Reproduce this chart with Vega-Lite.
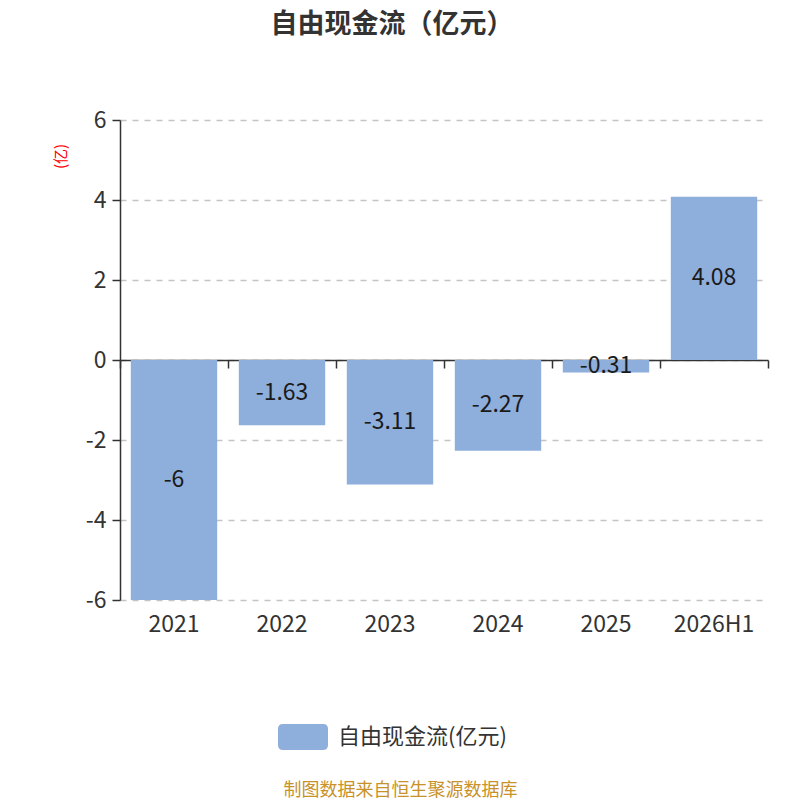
{
  "$schema": "https://vega.github.io/schema/vega-lite/v6.json",
  "width": 648,
  "height": 480,
  "autosize": {"type": "none"},
  "padding": {"left": 120, "top": 120, "right": 32, "bottom": 200},
  "background": "white",
  "config": {
    "view": {"stroke": "transparent"},
    "font": "Noto Sans CJK SC"
  },
  "title": {
    "text": "自由现金流（亿元）",
    "fontSize": 27,
    "fontWeight": "bold",
    "color": "#333333",
    "anchor": "middle",
    "frame": "group",
    "dx": -52,
    "offset": 70
  },
  "data": {
    "values": [
      {"period": "2021", "value": -6, "series": "自由现金流(亿元)"},
      {"period": "2022", "value": -1.63, "series": "自由现金流(亿元)"},
      {"period": "2023", "value": -3.11, "series": "自由现金流(亿元)"},
      {"period": "2024", "value": -2.27, "series": "自由现金流(亿元)"},
      {"period": "2025", "value": -0.31, "series": "自由现金流(亿元)"},
      {"period": "2026H1", "value": 4.08, "series": "自由现金流(亿元)"}
    ]
  },
  "encoding": {
    "x": {
      "field": "period",
      "type": "nominal",
      "sort": null,
      "scale": {"paddingInner": 0, "paddingOuter": 0}
    },
    "y": {
      "field": "value",
      "type": "quantitative",
      "scale": {"domain": [-6, 6], "nice": false},
      "axis": {
        "values": [-6, -4, -2, 0, 2, 4, 6],
        "labelExpr": "'' + datum.value",
        "title": "(亿)",
        "titleColor": "red",
        "titleFontSize": 15,
        "titleFontWeight": "normal",
        "titleAngle": -90,
        "titleX": -60,
        "titleY": 36,
        "titleAlign": "center",
        "titleBaseline": "middle",
        "labelFontSize": 23,
        "labelColor": "#333333",
        "labelPadding": 6,
        "domainColor": "#333333",
        "domainWidth": 1.5,
        "tickColor": "#333333",
        "tickSize": 8,
        "tickWidth": 1.5,
        "gridColor": "#c4c4c4",
        "gridDash": [6, 6],
        "gridWidth": 1.3
      }
    }
  },
  "layer": [
    {
      "mark": {"type": "bar", "color": "#8eaedc", "width": {"band": 0.8}},
      "encoding": {
        "color": {
          "field": "series",
          "type": "nominal",
          "scale": {"range": ["#8eaedc"]},
          "legend": {
            "title": null,
            "orient": "none",
            "legendX": 158,
            "legendY": 592,
            "symbolType": "M-0.8,-0.52 H0.8 Q1,-0.52 1,-0.32 V0.32 Q1,0.52 0.8,0.52 H-0.8 Q-1,0.52 -1,0.32 V-0.32 Q-1,-0.52 -0.8,-0.52 Z",
            "symbolSize": 2500,
            "symbolStrokeWidth": 0,
            "symbolOpacity": 1,
            "labelFontSize": 22,
            "labelLimit": 400,
            "labelColor": "#333333",
            "labelOffset": 10
          }
        },
        "x": {
          "field": "period",
          "type": "nominal",
          "sort": null,
          "axis": {
            "orient": "bottom",
            "offset": -240,
            "labels": false,
            "title": null,
            "grid": false,
            "domainColor": "#333333",
            "domainWidth": 1.5,
            "tickColor": "#333333",
            "tickWidth": 1.5,
            "tickSize": 8,
            "tickBand": "extent"
          }
        }
      }
    },
    {
      "transform": [
        {"calculate": "datum.value / 2", "as": "mid"},
        {"calculate": "'' + datum.value", "as": "label"}
      ],
      "mark": {"type": "text", "fontSize": 23, "color": "#1a1a1a", "baseline": "middle"},
      "encoding": {
        "x": {
          "field": "period",
          "type": "nominal",
          "sort": null,
          "axis": {
            "orient": "bottom",
            "domain": false,
            "ticks": false,
            "grid": false,
            "labelAngle": 0,
            "labelFontSize": 23,
            "labelColor": "#333333",
            "labelPadding": 13,
            "title": "制图数据来自恒生聚源数据库",
            "titleColor": "#c8922a",
            "titleFontSize": 18,
            "titleFontWeight": "normal",
            "titleX": 280,
            "titleAlign": "center",
            "titlePadding": 145
          }
        },
        "y": {"field": "mid", "type": "quantitative"},
        "text": {"field": "label", "type": "nominal"}
      }
    }
  ],
  "resolve": {"axis": {"x": "independent"}}
}
